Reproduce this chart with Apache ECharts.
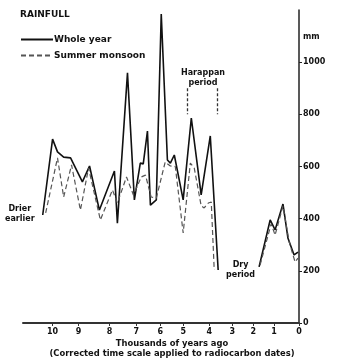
<!DOCTYPE html>
<html>
<head>
<meta charset="utf-8">
<script src="https://cdn.jsdelivr.net/npm/echarts@6.0.0/dist/echarts.min.js"></script>
<style>
  html, body { margin: 0; padding: 0; background: #fff; }
  #chart { width: 344px; height: 360px; }
</style>
</head>
<body>
<div id="chart"></div>
<script>
// corrected time scale: where each "thousands of years ago" label sits on the axis
const tickPos = [10.0, 8.95, 7.69, 6.60, 5.63, 4.70, 3.64, 2.71, 1.86, 1.01, 0]
const tickLabels = ['10', '9', '8', '7', '6', '5', '4', '3', '2', '1', '0']

// whole year rainfall (mm), null = no record
const wholeX = [10.40, 10.0, 9.80, 9.55, 9.27, 8.79, 8.50, 8.10, 7.49, 7.37, 6.96, 6.68, 6.44, 6.32, 6.15, 6.03, 5.79, 5.59, 5.34, 5.22, 5.06, 4.70, 4.37, 3.97, 3.60, 3.28, 2.5, 1.62, 1.17, 0.97, 0.65, 0.45, 0.20, 0.04]
const wholeMm = [414, 705, 656, 636, 633, 541, 602, 433, 583, 383, 959, 472, 613, 610, 736, 452, 472, 1185, 625, 613, 644, 472, 786, 491, 717, 203, null, 215, 395, 357, 456, 326, 261, 272]

// summer monsoon rainfall (mm)
const monsoonX = [10.28, 9.80, 9.55, 9.23, 8.87, 8.54, 8.06, 7.57, 7.37, 7.00, 6.72, 6.40, 6.23, 6.00, 5.79, 5.43, 5.22, 5.02, 4.70, 4.41, 4.25, 3.97, 3.85, 3.68, 3.56, 3.44, 2.5, 1.58, 1.13, 0.97, 0.65, 0.40, 0.16, 0.04]
const monsoonMm = [422, 633, 483, 606, 433, 594, 395, 510, 460, 560, 491, 560, 567, 483, 479, 617, 602, 600, 345, 613, 594, 449, 441, 460, 464, 203, null, 222, 380, 337, 449, 311, 234, 249]

// Harappan period bracket (on the time axis)
const harappan = [4.53, 3.32]

const yTicks = [0, 200, 400, 600, 800, 1000]

const zip = (xs, ys) => xs.map((x, i) => [x, ys[i] === null ? '-' : ys[i]])

const FONT = 'DejaVu Sans'
const bold = size => 'bold ' + size + 'px "' + FONT + '"'

const chart = echarts.init(document.getElementById('chart'))

const option = {
  animation: false,
  textStyle: { fontFamily: FONT },
  grid: { left: 23, right: 45, top: 10, bottom: 37 },
  legend: {
    orient: 'vertical',
    left: 15,
    top: 30,
    itemWidth: 32,
    itemHeight: 8,
    itemGap: 7,
    itemStyle: { opacity: 0 },
    textStyle: { fontFamily: FONT, fontWeight: 'bold', fontSize: 9, color: '#111', padding: [0, 0, 0, -4] },
    data: ['Whole year', 'Summer monsoon']
  },
  xAxis: {
    type: 'value',
    inverse: true,
    min: 0,
    max: 11.2,
    splitLine: { show: false },
    axisLine: { lineStyle: { color: '#333', width: 2 } },
    axisTick: { customValues: tickPos, length: 3, lineStyle: { color: '#333' } },
    axisLabel: {
      customValues: tickPos,
      color: '#111',
      fontWeight: 'bold',
      fontSize: 8,
      margin: 5,
      formatter: v => {
        let best = 0
        tickPos.forEach((p, i) => { if (Math.abs(p - v) < Math.abs(tickPos[best] - v)) best = i })
        return tickLabels[best]
      }
    }
  },
  yAxis: {
    type: 'value',
    position: 'right',
    min: 0,
    max: 1200,
    splitLine: { show: false },
    axisLine: { show: true, lineStyle: { color: '#222', width: 1.5 } },
    axisTick: { show: true, customValues: yTicks, length: 3, lineStyle: { color: '#222' } },
    axisLabel: { customValues: yTicks, color: '#111', fontWeight: 'bold', fontSize: 8, margin: 4, formatter: v => String(v) }
  },
  series: [
    {
      name: 'Whole year',
      type: 'line',
      data: zip(wholeX, wholeMm),
      symbol: 'none',
      connectNulls: false,
      lineStyle: { color: '#111', width: 1.6 },
      itemStyle: { color: '#111' },
      markLine: {
        silent: true,
        symbol: 'none',
        label: { show: false },
        lineStyle: { color: '#333', type: [3, 2], width: 1.3 },
        data: harappan.map(x => [{ coord: [x, 900] }, { coord: [x, 800] }])
      }
    },
    {
      name: 'Summer monsoon',
      type: 'line',
      data: zip(monsoonX, monsoonMm),
      symbol: 'none',
      connectNulls: false,
      lineStyle: { color: '#555', width: 1.2, type: [5, 3] },
      itemStyle: { color: '#555' }
    }
  ],
  graphic: [
    { type: 'text', left: 20, top: 10, style: { text: 'RAINFULL', font: bold(9), fill: '#111' } },
    { type: 'text', left: 303, top: 33, style: { text: 'mm', font: bold(8), fill: '#111' } },
    { type: 'text', left: 5, top: 204, style: { text: 'Drier\nearlier', font: bold(8), fill: '#111', lineHeight: 10, textAlign: 'center' } },
    { type: 'text', left: 181, top: 68, style: { text: 'Harappan\nperiod', font: bold(8), fill: '#111', lineHeight: 10, textAlign: 'center' } },
    { type: 'text', left: 226, top: 260, style: { text: 'Dry\nperiod', font: bold(8), fill: '#111', lineHeight: 10, textAlign: 'center' } },
    { type: 'text', left: 'center', top: 339, style: { text: 'Thousands of years ago\n(Corrected time scale applied to radiocarbon dates)', font: bold(8.4), fill: '#111', lineHeight: 10, textAlign: 'center' } }
  ]
}

chart.setOption(option)
</script>
</body>
</html>
